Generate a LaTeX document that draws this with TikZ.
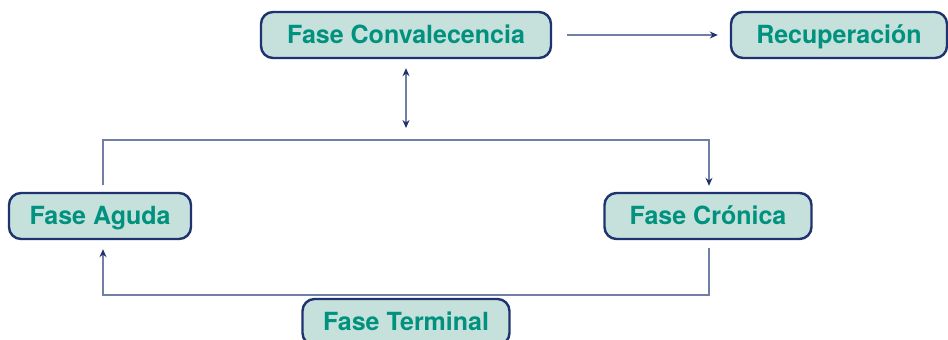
\documentclass[tikz,border=0pt]{standalone}
\usepackage{fontspec}
\setmainfont{TeX Gyre Heros}
\usetikzlibrary{arrows.meta}
\definecolor{boxfill}{HTML}{C6E0DB}
\definecolor{boxline}{HTML}{1F3370}
\definecolor{boxtext}{HTML}{00927F}
\definecolor{linkline}{HTML}{6F7FA8}
\begin{document}
\begin{tikzpicture}[x=1pt,y=-1pt,
    phase/.style={draw=boxline, line width=2.4pt, fill=boxfill, rounded corners=12pt,
      minimum height=46pt, inner sep=0pt, text height=18pt, text depth=2pt, text=boxtext,
      font=\fontsize{25}{27}\selectfont\bfseries},
    link/.style={draw=linkline, line width=1.2pt,
      -{Stealth[length=8pt,width=7pt,color=boxline]}},
    dlink/.style={draw=linkline, line width=1.2pt,
      {Stealth[length=8pt,width=7pt,color=boxline]}-{Stealth[length=8pt,width=7pt,color=boxline]}}
  ]
      \useasboundingbox (0,0) rectangle (948,340);

      % PHASES
      \node[phase, minimum width=290pt] (conv) at (406,35) {Fase Convalecencia};
      \node[phase, minimum width=216pt] (recu) at (839,35) {Recuperación};
      \node[phase, minimum width=182pt] (aguda) at (100,216) {Fase Aguda};
      \node[phase, minimum width=207pt] (cron) at (708,216) {Fase Crónica};
      \node[phase, minimum width=207pt] (term) at (406,322) {Fase Terminal};

      % corners of the loop
      \coordinate (top) at (406,140);
      \coordinate (bot) at (406,295);

      % ARROWS
      \draw[link, shorten <=15pt, shorten >=12pt] (conv) -- (recu);
      \draw[dlink, shorten <=9pt, shorten >=12pt] (conv.south) -- (top);
      \draw[link, shorten <=7pt, shorten >=6pt] ([xshift=3pt]aguda.north) |- (top) -| ([xshift=1pt]cron.north);
      \draw[link, shorten <=8pt, shorten >=9pt] ([xshift=1pt]cron.south) |- (bot) -| ([xshift=3pt]aguda.south);
\end{tikzpicture}
\end{document}
